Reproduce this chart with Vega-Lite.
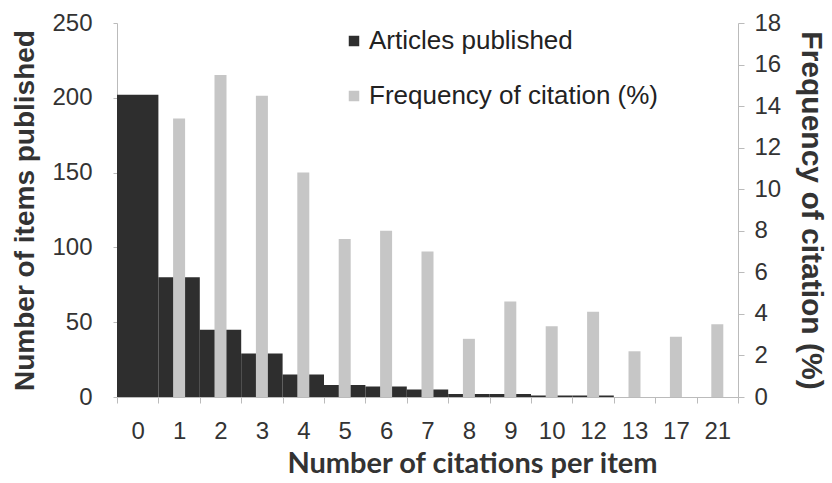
{
  "$schema": "https://vega.github.io/schema/vega-lite/v6.json",
  "width": 621,
  "height": 374,
  "autosize": "none",
  "padding": {"left": 117, "top": 23, "right": 94, "bottom": 86},
  "background": "white",
  "config": {
    "view": {"stroke": null},
    "axis": {"labelFont": "Liberation Sans", "labelColor": "#333333", "labelFontSize": 24, "titleColor": "#333333", "domainColor": "#bbbbbb", "tickColor": "#bbbbbb", "grid": false}
  },
  "data": {
    "values": [
      {"cit": "0", "articles": 202, "freq": 0},
      {"cit": "1", "articles": 80, "freq": 13.4},
      {"cit": "2", "articles": 45, "freq": 15.5},
      {"cit": "3", "articles": 29, "freq": 14.5},
      {"cit": "4", "articles": 15, "freq": 10.8},
      {"cit": "5", "articles": 8, "freq": 7.6},
      {"cit": "6", "articles": 7, "freq": 8.0},
      {"cit": "7", "articles": 5, "freq": 7.0},
      {"cit": "8", "articles": 2, "freq": 2.8},
      {"cit": "9", "articles": 2, "freq": 4.6},
      {"cit": "10", "articles": 1, "freq": 3.4},
      {"cit": "12", "articles": 1, "freq": 4.1},
      {"cit": "13", "articles": 0, "freq": 2.2},
      {"cit": "17", "articles": 0, "freq": 2.9},
      {"cit": "21", "articles": 0, "freq": 3.5}
    ]
  },
  "encoding": {
    "x": {
      "field": "cit", "type": "ordinal", "sort": null,
      "scale": {"paddingInner": 0, "paddingOuter": 0},
      "axis": {"title": "Number of citations per item", "titleFont": "Lato", "titleFontWeight": "bold", "titleFontSize": 29, "titlePadding": 6, "titleX": 355, "labelAngle": 0, "labelPadding": 16, "tickBand": "extent", "tickSize": 6, "domainColor": "#bbbbbb"}
    }
  },
  "layer": [
    {
      "mark": {"type": "bar", "color": "#2e2e2e"},
      "encoding": {
        "y": {"field": "articles", "type": "quantitative", "scale": {"domain": [0, 250]},
          "axis": {"orient": "left", "title": "Number of items published", "titleFont": "Liberation Sans", "titleFontWeight": "bold", "titleFontSize": 28, "titlePadding": 12, "values": [0, 50, 100, 150, 200, 250], "tickSize": 4, "labelPadding": 21}},
        "color": {"datum": "Articles published", "type": "nominal",
          "scale": {"domain": ["Articles published", "Frequency of citation (%)"], "range": ["#2e2e2e", "#c6c6c6"]},
          "legend": {"title": null, "orient": "none", "legendX": 224, "legendY": 5, "symbolType": "square", "symbolSize": 110, "symbolStrokeWidth": 0, "labelFont": "Liberation Sans", "labelFontSize": 26, "labelColor": "#222222", "labelLimit": 0, "rowPadding": 29, "labelOffset": 2}}
      }
    },
    {
      "mark": {"type": "bar", "width": 12},
      "encoding": {
        "y": {"field": "freq", "type": "quantitative", "scale": {"domain": [0, 18]},
          "axis": {"orient": "right", "title": "Frequency of citation (%)", "titleFont": "Liberation Sans", "titleFontWeight": "bold", "titleFontSize": 30, "titlePadding": 15, "values": [0, 2, 4, 6, 8, 10, 12, 14, 16, 18], "tickSize": 6, "labelPadding": 10}},
        "color": {"datum": "Frequency of citation (%)", "type": "nominal"}
      }
    }
  ],
  "resolve": {"scale": {"y": "independent"}}
}
